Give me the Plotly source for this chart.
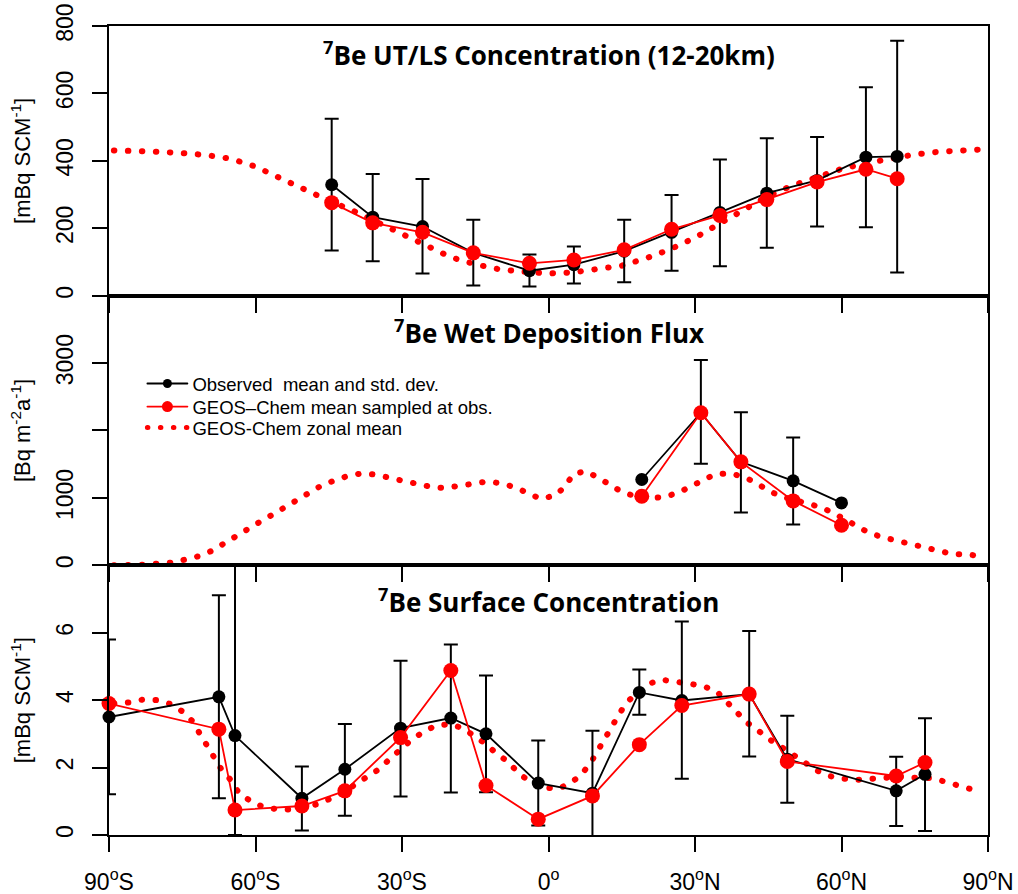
import numpy as np
import plotly.graph_objects as go
from plotly.subplots import make_subplots

# ---------------- UT/LS 7Be concentration (12-20 km), mBq SCM^-1 ----------------
utls_lat = [-44.4, -36.0, -25.8, -15.4, -3.9, 5.2, 15.5, 25.2, 35.1, 44.7, 55.0, 65.0, 71.4]
utls_obs = [329, 233, 205, 127, 74, 92, 132, 188, 247, 304, 342, 411, 413]
utls_obs_hi = [525, 361, 346, 225, 122, 146, 225, 299, 404, 467, 471, 618, 756]
utls_obs_lo = [134, 102, 66, 30, 27, 36, 40, 74, 87, 142, 205, 203, 69]
utls_model = [276, 216, 188, 127, 96, 106, 136, 197, 238, 285, 337, 375, 347]

utls_zonal_lat = [-89, -85, -80, -75, -70, -65, -60, -55, -50, -45, -40, -35, -30, -25, -20,
                  -15, -10, -5, 0, 5, 10, 15, 20, 25, 30, 35, 40, 45, 50, 55, 60, 65, 70,
                  75, 80, 85, 89]
utls_zonal = [431, 430, 427, 423, 417, 406, 383, 349, 314, 282, 252, 217, 180, 145, 114,
              93, 78, 71, 66, 69, 78, 89, 111, 138, 172, 214, 258, 296, 327, 350, 376, 393, 406,
              419, 427, 431, 434]

# ---------------- 7Be wet deposition flux, Bq m^-2 a^-1 ----------------
wet_lat = [19.1, 31.2, 39.4, 50.1, 60.0]
wet_obs = [1273, 2263, 1535, 1253, 926]
wet_obs_hi = [np.nan, 3046, 2269, 1898, np.nan]
wet_obs_lo = [np.nan, 1505, 783, 605, np.nan]
wet_model = [1025, 2263, 1535, 956, 595]

wet_zonal_lat = [-89, -86, -83, -80, -77, -74.5, -71.5, -69, -66.5, -64, -61.5, -59, -56.5, -54,
                 -51.5, -49, -46.5, -43.5, -41, -38, -35, -32.5, -29.5, -26.5, -23.5, -21, -18,
                 -15, -12.5, -9.5, -6.5, -4, -1.5, 1.5, 3.5, 5, 7.5, 10, 12.5, 15, 17.5, 20.5,
                 23.5, 26.5, 29, 31.5, 34, 37, 40, 42.5, 45, 47.5, 50.5, 53, 56, 58.5, 61, 63.5,
                 66, 69, 72, 74.5, 77.5, 80.5, 83, 86, 89]
wet_zonal = [0, 0, 10, 25, 40, 85, 138, 213, 327, 431, 535, 649, 753, 857,
             966, 1080, 1184, 1268, 1327, 1367, 1342, 1297, 1248, 1189, 1155, 1149, 1189,
             1233, 1244, 1214, 1149, 1060, 985, 1040, 1179, 1348, 1397, 1308, 1189, 1090, 1030, 1000,
             1010, 1075, 1164, 1253, 1348, 1367, 1312, 1223, 1110, 1025, 955, 917, 857, 777, 673, 565,
             471, 406, 352, 302, 242, 193, 163, 163, 123]

# ---------------- 7Be surface concentration, mBq SCM^-1 ----------------
surf_lat = [-90, -67.5, -64.2, -50.5, -41.7, -30.3, -20.0, -12.8, -2.1, 9.0, 18.6, 27.3,
            41.1, 48.9, 71.2, 77.1]
surf_obs = [3.50, 4.10, 2.95, 1.09, 1.95, 3.17, 3.47, 3.00, 1.54, 1.24, 4.23, 3.99,
            4.18, 2.25, 1.31, 1.80]
# the upper end of the 64S bar runs off the top of the panel
surf_obs_hi = [5.80, 7.11, 8.00, 2.03, 3.29, 5.17, 5.65, 4.73, 2.80, 3.09, 4.91, 6.33,
               6.05, 3.54, 2.32, 3.46]
surf_obs_lo = [1.21, 1.09, 0.00, 0.13, 0.57, 1.14, 1.26, 1.27, 0.28, -0.62, 3.57, 1.67,
               2.33, 0.96, 0.27, 0.12]
surf_model = [3.90, 3.14, 0.74, 0.86, 1.31, 2.89, 4.88, 1.47, 0.47, 1.16, 2.68, 3.84,
              4.18, 2.18, 1.75, 2.15]

surf_zonal_lat = [-89, -86, -83, -80, -77.5, -75, -73, -71.5, -70, -68.5, -67, -65, -63.5, -61,
                  -58.5, -55.5, -53, -50.5, -47, -44.5, -41.5, -39.5, -37, -34.5, -32.5, -30,
                  -28, -25.5, -23, -20, -17.5, -15, -12.5, -10.5, -8.5, -6, -3.5, -1, 2, 4.5,
                  6.5, 8.5, 10, 11.5, 13, 14.5, 16, 18, 20.5, 23, 26, 29, 31.5, 34.5, 36.5,
                  38.5, 40.5, 43, 45, 47.5, 50, 52.5, 55, 57.5, 60.5, 63.5, 66, 69, 72, 75, 78,
                  80.5, 83.5, 86.5, 88]
surf_zonal = [3.90, 3.93, 4.02, 4.00, 3.89, 3.67, 3.39, 3.02, 2.66, 2.30, 1.95, 1.62, 1.27, 1.00,
              0.84, 0.76, 0.76, 0.82, 0.92, 1.09, 1.30, 1.51, 1.72, 1.97, 2.26, 2.56,
              2.83, 3.07, 3.25, 3.29, 3.16, 2.92, 2.66, 2.39, 2.20, 1.82, 1.55, 1.41, 1.37, 1.54,
              1.76, 2.11, 2.46, 2.83, 3.22, 3.60, 3.92, 4.21, 4.48, 4.61, 4.55, 4.51, 4.43, 4.25, 3.95,
              3.65, 3.35, 3.09, 2.86, 2.63, 2.38, 2.13, 1.91, 1.75, 1.67, 1.64, 1.67, 1.70, 1.73, 1.70, 1.69,
              1.61, 1.47, 1.36, 1.30]

# ---------------- axis text ----------------
lat_ticks = [-90, -60, -30, 0, 30, 60, 90]
lat_labels = ["90<sup>o</sup>S", "60<sup>o</sup>S", "30<sup>o</sup>S", "0<sup>o</sup>",
              "30<sup>o</sup>N", "60<sup>o</sup>N", "90<sup>o</sup>N"]
panel_titles = ["<sup>7</sup>Be UT/LS Concentration (12-20km)",
                "<sup>7</sup>Be Wet Deposition Flux",
                "<sup>7</sup>Be Surface Concentration"]
y_titles = ["[mBq SCM<sup>-1</sup>]", "[Bq m<sup>-2</sup>a<sup>-1</sup>]", "[mBq SCM<sup>-1</sup>]"]
y_ranges = [[0, 800], [0, 4000], [0, 8]]
y_tickvals = [[0, 200, 400, 600, 800], [0, 1000, 2000, 3000], [0, 2, 4, 6]]
y_ticktext = [["0", "200", "400", "600", "800"], ["0", "1000", "", "3000"], ["0", "2", "4", "6"]]
legend_names = ["Observed\u00a0 mean and std. dev.", "GEOS\u2013Chem mean sampled at obs.",
                "GEOS-Chem zonal mean"]

RED = "#ff0000"
SANS = "Liberation Sans, Arial, sans-serif"

panels = [
    (utls_lat, utls_obs, utls_obs_hi, utls_obs_lo, utls_model, utls_zonal_lat, utls_zonal),
    (wet_lat, wet_obs, wet_obs_hi, wet_obs_lo, wet_model, wet_zonal_lat, wet_zonal),
    (surf_lat, surf_obs, surf_obs_hi, surf_obs_lo, surf_model, surf_zonal_lat, surf_zonal),
]

fig = make_subplots(rows=3, cols=1, vertical_spacing=0)

for r, (lat, obs, hi, lo, model, zlat, zval) in enumerate(panels, start=1):
    obs_a = np.asarray(obs, dtype=float)
    plus = np.asarray(hi, dtype=float) - obs_a
    minus = obs_a - np.asarray(lo, dtype=float)
    # model zonal mean as a round-dotted line
    fig.add_trace(go.Scatter(x=zlat, y=zval, mode="lines", showlegend=False, hoverinfo="skip",
                             line=dict(color=RED, width=6, dash="0.5px,13.5px")), row=r, col=1)
    # observations with +/- one standard deviation
    fig.add_trace(go.Scatter(x=lat, y=obs, mode="lines+markers", showlegend=False,
                             cliponaxis=False,
                             line=dict(color="black", width=1.8),
                             marker=dict(color="black", size=13),
                             error_y=dict(type="data", array=plus, arrayminus=minus,
                                          color="black", thickness=2, width=7)),
                  row=r, col=1)
    # model sampled at the observation sites
    fig.add_trace(go.Scatter(x=lat, y=model, mode="lines+markers", showlegend=False,
                             cliponaxis=False,
                             line=dict(color=RED, width=1.8),
                             marker=dict(color=RED, size=15)),
                  row=r, col=1)

# legend entries, one legend per row so the rows sit close together
fig.add_trace(go.Scatter(x=[None], y=[None], mode="lines+markers", name=legend_names[0],
                         legend="legend",
                         line=dict(color="black", width=1.8), marker=dict(color="black", size=9)),
              row=2, col=1)
fig.add_trace(go.Scatter(x=[None], y=[None], mode="lines+markers", name=legend_names[1],
                         legend="legend2",
                         line=dict(color=RED, width=1.8), marker=dict(color=RED, size=11)),
              row=2, col=1)
fig.add_trace(go.Scatter(x=[None], y=[None], mode="lines", name=legend_names[2],
                         legend="legend3",
                         line=dict(color=RED, width=5, dash="0.5px,12.5px")),
              row=2, col=1)

axis_common = dict(showline=True, linewidth=2, linecolor="black", mirror=True,
                   ticks="outside", ticklen=15, tickwidth=2, tickcolor="black",
                   showgrid=False, zeroline=False)

for r in range(1, 4):
    fig.update_xaxes(row=r, col=1, range=[-90, 90], tickmode="array", tickvals=lat_ticks,
                     ticktext=lat_labels, showticklabels=(r == 3),
                     tickfont=dict(family=SANS, size=23, color="black"),
                     ticklabelstandoff=10, **axis_common)
    fig.update_yaxes(row=r, col=1, range=y_ranges[r - 1], tickmode="array",
                     tickvals=y_tickvals[r - 1], ticktext=y_ticktext[r - 1],
                     tickangle=-90, tickfont=dict(family=SANS, size=23, color="black"),
                     ticklabelstandoff=10,
                     title=dict(text=y_titles[r - 1], standoff=15,
                                font=dict(family=SANS, size=22, color="black")),
                     **axis_common)

# panel titles
title_y = [0.9655, 0.622, 0.2895]
for t, yy in zip(panel_titles, title_y):
    fig.add_annotation(text="<b>" + t + "</b>", x=0.5, y=yy, xref="paper", yref="paper",
                       xanchor="center", yanchor="middle", showarrow=False,
                       font=dict(family="Open Sans", size=26, color="black"))

legend_style = dict(x=0.038, xanchor="left", yanchor="top",
                    bgcolor="rgba(0,0,0,0)", borderwidth=0,
                    font=dict(family=SANS, size=18.5, color="black"),
                    itemwidth=40)
fig.update_layout(
    width=1018, height=894,
    margin=dict(l=109, r=30, t=26, b=59, autoexpand=False),
    paper_bgcolor="white", plot_bgcolor="white",
    showlegend=True,
    legend=dict(y=0.5810, **legend_style),
    legend2=dict(y=0.5525, **legend_style),
    legend3=dict(y=0.5266, **legend_style),
)

round_caps = ("var s=document.createElement('style');"
              "s.textContent='.js-line{stroke-linecap:round;}';"
              "document.head.appendChild(s);")
fig.write_html("out.html", post_script=round_caps)
